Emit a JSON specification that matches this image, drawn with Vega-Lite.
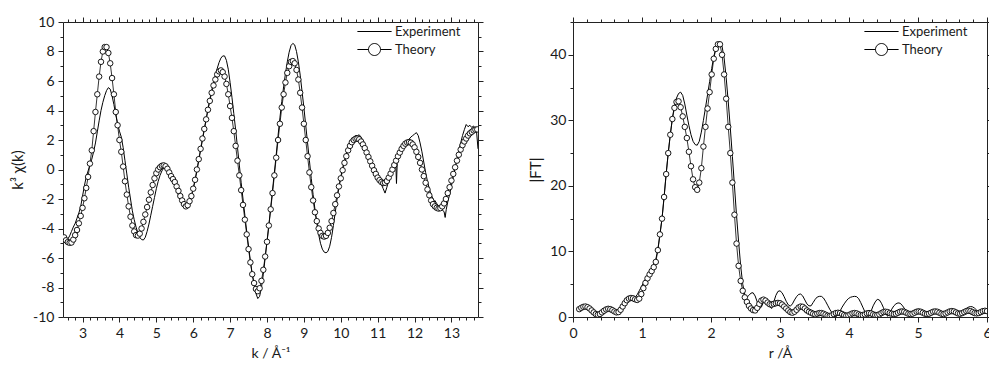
{
  "$schema": "https://vega.github.io/schema/vega-lite/v6.json",
  "background": "white",
  "padding": {"left": 10, "top": 15, "right": 0, "bottom": 0},
  "bounds": "flush",
  "spacing": 95,
  "datasets": {
    "lth": [
      {"k":2.5,"chi":-4.6},{"k":2.55,"chi":-4.8},{"k":2.6,"chi":-4.92},{"k":2.65,"chi":-4.97},{"k":2.7,"chi":-4.95},{"k":2.75,"chi":-4.75},{"k":2.8,"chi":-4.45},{"k":2.85,"chi":-4.1},{"k":2.9,"chi":-3.65},{"k":2.95,"chi":-3.15},
      {"k":3.0,"chi":-2.6},{"k":3.05,"chi":-1.95},{"k":3.1,"chi":-1.25},{"k":3.15,"chi":-0.5},{"k":3.2,"chi":0.4},{"k":3.25,"chi":1.3},{"k":3.3,"chi":2.6},{"k":3.35,"chi":3.9},{"k":3.4,"chi":5.1},{"k":3.45,"chi":6.3},
      {"k":3.5,"chi":7.3},{"k":3.55,"chi":8.0},{"k":3.6,"chi":8.3},{"k":3.65,"chi":8.3},{"k":3.7,"chi":7.9},{"k":3.75,"chi":7.2},{"k":3.8,"chi":6.2},{"k":3.85,"chi":5.1},{"k":3.9,"chi":3.9},{"k":3.95,"chi":3.0},
      {"k":4.0,"chi":2.0},{"k":4.05,"chi":1.2},{"k":4.1,"chi":0.2},{"k":4.15,"chi":-0.8},{"k":4.2,"chi":-1.7},{"k":4.25,"chi":-2.5},{"k":4.3,"chi":-3.2},{"k":4.35,"chi":-3.8},{"k":4.4,"chi":-4.2},{"k":4.45,"chi":-4.45},
      {"k":4.5,"chi":-4.48},{"k":4.55,"chi":-4.35},{"k":4.6,"chi":-4.0},{"k":4.65,"chi":-3.55},{"k":4.7,"chi":-3.05},{"k":4.75,"chi":-2.55},{"k":4.8,"chi":-2.05},{"k":4.85,"chi":-1.55},{"k":4.9,"chi":-1.05},{"k":4.95,"chi":-0.6},
      {"k":5.0,"chi":-0.25},{"k":5.05,"chi":0.0},{"k":5.1,"chi":0.15},{"k":5.15,"chi":0.25},{"k":5.2,"chi":0.28},{"k":5.25,"chi":0.22},{"k":5.3,"chi":0.05},{"k":5.35,"chi":-0.2},{"k":5.4,"chi":-0.45},{"k":5.45,"chi":-0.65},
      {"k":5.5,"chi":-0.85},{"k":5.55,"chi":-1.15},{"k":5.6,"chi":-1.45},{"k":5.65,"chi":-1.8},{"k":5.7,"chi":-2.1},{"k":5.75,"chi":-2.35},{"k":5.8,"chi":-2.5},{"k":5.85,"chi":-2.42},{"k":5.9,"chi":-2.15},{"k":5.95,"chi":-1.8},
      {"k":6.0,"chi":-1.3},{"k":6.05,"chi":-0.7},{"k":6.1,"chi":0.0},{"k":6.15,"chi":0.7},{"k":6.2,"chi":1.4},{"k":6.25,"chi":2.1},{"k":6.3,"chi":2.75},{"k":6.35,"chi":3.4},{"k":6.4,"chi":4.05},{"k":6.45,"chi":4.65},
      {"k":6.5,"chi":5.2},{"k":6.55,"chi":5.7},{"k":6.6,"chi":6.1},{"k":6.65,"chi":6.45},{"k":6.7,"chi":6.65},{"k":6.75,"chi":6.72},{"k":6.8,"chi":6.6},{"k":6.85,"chi":6.3},{"k":6.9,"chi":5.8},{"k":6.95,"chi":5.1},
      {"k":7.0,"chi":4.3},{"k":7.05,"chi":3.5},{"k":7.1,"chi":2.6},{"k":7.15,"chi":1.6},{"k":7.2,"chi":0.6},{"k":7.25,"chi":-0.4},{"k":7.3,"chi":-1.4},{"k":7.35,"chi":-2.4},{"k":7.4,"chi":-3.4},{"k":7.45,"chi":-4.4},
      {"k":7.5,"chi":-5.4},{"k":7.55,"chi":-6.3},{"k":7.6,"chi":-7.1},{"k":7.65,"chi":-7.7},{"k":7.7,"chi":-8.1},{"k":7.75,"chi":-8.25},{"k":7.8,"chi":-8.05},{"k":7.85,"chi":-7.55},{"k":7.9,"chi":-6.8},{"k":7.95,"chi":-5.9},
      {"k":8.0,"chi":-4.9},{"k":8.05,"chi":-3.8},{"k":8.1,"chi":-2.7},{"k":8.15,"chi":-1.6},{"k":8.2,"chi":-0.4},{"k":8.25,"chi":0.8},{"k":8.3,"chi":2.0},{"k":8.35,"chi":3.1},{"k":8.4,"chi":4.2},{"k":8.45,"chi":5.1},
      {"k":8.5,"chi":5.9},{"k":8.55,"chi":6.55},{"k":8.6,"chi":7.0},{"k":8.65,"chi":7.3},{"k":8.7,"chi":7.35},{"k":8.75,"chi":7.2},{"k":8.8,"chi":6.75},{"k":8.85,"chi":6.1},{"k":8.9,"chi":5.2},{"k":8.95,"chi":4.2},
      {"k":9.0,"chi":3.1},{"k":9.05,"chi":2.0},{"k":9.1,"chi":0.9},{"k":9.15,"chi":-0.2},{"k":9.2,"chi":-1.2},{"k":9.25,"chi":-2.1},{"k":9.3,"chi":-2.9},{"k":9.35,"chi":-3.5},{"k":9.4,"chi":-4.0},{"k":9.45,"chi":-4.3},
      {"k":9.5,"chi":-4.5},{"k":9.55,"chi":-4.55},{"k":9.6,"chi":-4.5},{"k":9.65,"chi":-4.3},{"k":9.7,"chi":-3.95},{"k":9.75,"chi":-3.5},{"k":9.8,"chi":-2.95},{"k":9.85,"chi":-2.35},{"k":9.9,"chi":-1.75},{"k":9.95,"chi":-1.15},
      {"k":10.0,"chi":-0.6},{"k":10.05,"chi":-0.05},{"k":10.1,"chi":0.45},{"k":10.15,"chi":0.9},{"k":10.2,"chi":1.3},{"k":10.25,"chi":1.6},{"k":10.3,"chi":1.85},{"k":10.35,"chi":2.0},{"k":10.4,"chi":2.08},{"k":10.45,"chi":2.1},
      {"k":10.5,"chi":2.05},{"k":10.55,"chi":1.9},{"k":10.6,"chi":1.7},{"k":10.65,"chi":1.45},{"k":10.7,"chi":1.15},{"k":10.75,"chi":0.85},{"k":10.8,"chi":0.55},{"k":10.85,"chi":0.25},{"k":10.9,"chi":-0.05},{"k":10.95,"chi":-0.3},
      {"k":11.0,"chi":-0.55},{"k":11.05,"chi":-0.72},{"k":11.1,"chi":-0.85},{"k":11.15,"chi":-0.92},{"k":11.2,"chi":-0.9},{"k":11.25,"chi":-0.78},{"k":11.3,"chi":-0.55},{"k":11.35,"chi":-0.28},{"k":11.4,"chi":0.0},{"k":11.45,"chi":0.3},
      {"k":11.5,"chi":0.6},{"k":11.55,"chi":0.9},{"k":11.6,"chi":1.15},{"k":11.65,"chi":1.4},{"k":11.7,"chi":1.6},{"k":11.75,"chi":1.75},{"k":11.8,"chi":1.83},{"k":11.85,"chi":1.86},{"k":11.9,"chi":1.82},{"k":11.95,"chi":1.7},
      {"k":12.0,"chi":1.5},{"k":12.05,"chi":1.2},{"k":12.1,"chi":0.85},{"k":12.15,"chi":0.45},{"k":12.2,"chi":0.0},{"k":12.25,"chi":-0.45},{"k":12.3,"chi":-0.9},{"k":12.35,"chi":-1.35},{"k":12.4,"chi":-1.75},{"k":12.45,"chi":-2.1},
      {"k":12.5,"chi":-2.35},{"k":12.55,"chi":-2.5},{"k":12.6,"chi":-2.6},{"k":12.65,"chi":-2.65},{"k":12.7,"chi":-2.62},{"k":12.75,"chi":-2.5},{"k":12.8,"chi":-2.3},{"k":12.85,"chi":-2.0},{"k":12.9,"chi":-1.6},{"k":12.95,"chi":-1.2},
      {"k":13.0,"chi":-0.75},{"k":13.05,"chi":-0.3},{"k":13.1,"chi":0.15},{"k":13.15,"chi":0.6},{"k":13.2,"chi":1.0},{"k":13.25,"chi":1.35},{"k":13.3,"chi":1.65},{"k":13.35,"chi":1.9},{"k":13.4,"chi":2.1},{"k":13.45,"chi":2.3},
      {"k":13.5,"chi":2.45},{"k":13.55,"chi":2.55},{"k":13.6,"chi":2.65},{"k":13.65,"chi":2.7},{"k":13.7,"chi":2.72}
    ],
    "lexp": [
      {"k":2.5,"chi":-4.65},{"k":2.55,"chi":-4.78},{"k":2.6,"chi":-4.72},{"k":2.65,"chi":-4.5},{"k":2.7,"chi":-4.2},{"k":2.75,"chi":-3.9},{"k":2.8,"chi":-3.65},{"k":2.85,"chi":-3.3},{"k":2.9,"chi":-2.95},{"k":2.95,"chi":-2.5},
      {"k":3.0,"chi":-1.8},{"k":3.05,"chi":-1.1},{"k":3.1,"chi":-0.5},{"k":3.15,"chi":-0.1},{"k":3.2,"chi":0.3},{"k":3.25,"chi":0.7},{"k":3.3,"chi":1.2},{"k":3.35,"chi":1.8},{"k":3.4,"chi":2.55},{"k":3.45,"chi":3.3},
      {"k":3.5,"chi":4.0},{"k":3.55,"chi":4.55},{"k":3.6,"chi":5.0},{"k":3.65,"chi":5.35},{"k":3.7,"chi":5.55},{"k":3.75,"chi":5.45},{"k":3.8,"chi":5.0},{"k":3.85,"chi":4.4},{"k":3.9,"chi":3.7},{"k":3.95,"chi":3.1},
      {"k":4.0,"chi":2.6},{"k":4.05,"chi":2.2},{"k":4.1,"chi":1.5},{"k":4.15,"chi":0.6},{"k":4.2,"chi":-0.3},{"k":4.25,"chi":-1.2},{"k":4.3,"chi":-2.0},{"k":4.35,"chi":-2.8},{"k":4.4,"chi":-3.4},{"k":4.45,"chi":-3.9},
      {"k":4.5,"chi":-4.3},{"k":4.55,"chi":-4.6},{"k":4.6,"chi":-4.75},{"k":4.65,"chi":-4.78},{"k":4.7,"chi":-4.6},{"k":4.75,"chi":-4.2},{"k":4.8,"chi":-3.7},{"k":4.85,"chi":-3.1},{"k":4.9,"chi":-2.5},{"k":4.95,"chi":-1.9},
      {"k":5.0,"chi":-1.3},{"k":5.05,"chi":-0.8},{"k":5.1,"chi":-0.4},{"k":5.15,"chi":-0.1},{"k":5.2,"chi":0.1},{"k":5.25,"chi":0.2},{"k":5.3,"chi":0.15},{"k":5.35,"chi":-0.05},{"k":5.4,"chi":-0.35},{"k":5.45,"chi":-0.7},
      {"k":5.5,"chi":-1.05},{"k":5.55,"chi":-1.4},{"k":5.6,"chi":-1.75},{"k":5.65,"chi":-2.05},{"k":5.7,"chi":-2.3},{"k":5.75,"chi":-2.45},{"k":5.8,"chi":-2.5},{"k":5.85,"chi":-2.45},{"k":5.9,"chi":-2.2},{"k":5.95,"chi":-1.8},
      {"k":6.0,"chi":-1.3},{"k":6.05,"chi":-0.75},{"k":6.1,"chi":-0.1},{"k":6.15,"chi":0.6},{"k":6.2,"chi":1.3},{"k":6.25,"chi":2.0},{"k":6.3,"chi":2.7},{"k":6.35,"chi":3.4},{"k":6.4,"chi":4.1},{"k":6.45,"chi":4.75},
      {"k":6.5,"chi":5.35},{"k":6.55,"chi":5.9},{"k":6.6,"chi":6.4},{"k":6.65,"chi":6.85},{"k":6.7,"chi":7.25},{"k":6.75,"chi":7.55},{"k":6.8,"chi":7.7},{"k":6.85,"chi":7.7},{"k":6.9,"chi":7.4},{"k":6.95,"chi":6.8},
      {"k":7.0,"chi":5.9},{"k":7.05,"chi":4.9},{"k":7.1,"chi":3.8},{"k":7.15,"chi":2.7},{"k":7.2,"chi":1.5},{"k":7.25,"chi":0.3},{"k":7.3,"chi":-0.9},{"k":7.35,"chi":-2.0},{"k":7.4,"chi":-3.1},{"k":7.45,"chi":-4.2},
      {"k":7.5,"chi":-5.2},{"k":7.55,"chi":-6.2},{"k":7.6,"chi":-7.1},{"k":7.65,"chi":-7.8},{"k":7.7,"chi":-8.4},{"k":7.75,"chi":-8.75},{"k":7.8,"chi":-8.6},{"k":7.85,"chi":-8.0},{"k":7.9,"chi":-7.1},{"k":7.95,"chi":-6.0},
      {"k":8.0,"chi":-4.9},{"k":8.05,"chi":-3.8},{"k":8.1,"chi":-2.6},{"k":8.15,"chi":-1.4},{"k":8.2,"chi":-0.2},{"k":8.25,"chi":1.0},{"k":8.3,"chi":2.3},{"k":8.35,"chi":3.5},{"k":8.4,"chi":4.6},{"k":8.45,"chi":5.6},
      {"k":8.5,"chi":6.5},{"k":8.55,"chi":7.3},{"k":8.6,"chi":7.95},{"k":8.65,"chi":8.4},{"k":8.7,"chi":8.55},{"k":8.75,"chi":8.45},{"k":8.8,"chi":8.0},{"k":8.85,"chi":7.3},{"k":8.9,"chi":6.4},{"k":8.95,"chi":5.3},
      {"k":9.0,"chi":4.2},{"k":9.05,"chi":3.0},{"k":9.1,"chi":1.8},{"k":9.15,"chi":0.6},{"k":9.2,"chi":-0.6},{"k":9.25,"chi":-1.7},{"k":9.3,"chi":-2.7},{"k":9.35,"chi":-3.6},{"k":9.4,"chi":-4.4},{"k":9.45,"chi":-5.0},
      {"k":9.5,"chi":-5.4},{"k":9.55,"chi":-5.6},{"k":9.6,"chi":-5.65},{"k":9.65,"chi":-5.55},{"k":9.7,"chi":-5.2},{"k":9.75,"chi":-4.6},{"k":9.8,"chi":-3.8},{"k":9.85,"chi":-2.9},{"k":9.9,"chi":-2.0},{"k":9.95,"chi":-1.2},
      {"k":10.0,"chi":-0.5},{"k":10.05,"chi":0.1},{"k":10.1,"chi":0.6},{"k":10.15,"chi":1.05},{"k":10.2,"chi":1.45},{"k":10.25,"chi":1.75},{"k":10.3,"chi":2.0},{"k":10.35,"chi":2.2},{"k":10.4,"chi":2.3},{"k":10.45,"chi":2.3},
      {"k":10.5,"chi":2.35},{"k":10.55,"chi":2.2},{"k":10.6,"chi":1.9},{"k":10.65,"chi":1.55},{"k":10.7,"chi":1.2},{"k":10.75,"chi":0.85},{"k":10.8,"chi":0.5},{"k":10.85,"chi":0.2},{"k":10.9,"chi":-0.1},{"k":10.95,"chi":-0.35},
      {"k":11.0,"chi":-0.6},{"k":11.05,"chi":-0.8},{"k":11.1,"chi":-1.0},{"k":11.15,"chi":-1.3},{"k":11.2,"chi":-1.6},{"k":11.25,"chi":-1.2},{"k":11.3,"chi":-0.75},{"k":11.35,"chi":-0.4},{"k":11.4,"chi":-0.1},{"k":11.45,"chi":0.25},
      {"k":11.49,"chi":0.5},{"k":11.51,"chi":-0.95},{"k":11.53,"chi":0.4},{"k":11.55,"chi":0.7},{"k":11.6,"chi":1.0},{"k":11.65,"chi":1.25},{"k":11.7,"chi":1.5},{"k":11.75,"chi":1.75},{"k":11.8,"chi":1.9},{"k":11.85,"chi":2.05},
      {"k":11.9,"chi":2.2},{"k":11.95,"chi":2.3},{"k":12.0,"chi":2.4},{"k":12.05,"chi":2.5},{"k":12.1,"chi":2.3},{"k":12.15,"chi":1.8},{"k":12.2,"chi":1.2},{"k":12.25,"chi":0.5},{"k":12.3,"chi":-0.2},{"k":12.35,"chi":-0.8},
      {"k":12.4,"chi":-1.3},{"k":12.45,"chi":-1.7},{"k":12.5,"chi":-2.0},{"k":12.52,"chi":-2.4},{"k":12.55,"chi":-2.1},{"k":12.6,"chi":-2.3},{"k":12.65,"chi":-2.5},{"k":12.7,"chi":-2.65},{"k":12.75,"chi":-2.75},{"k":12.8,"chi":-2.85},
      {"k":12.83,"chi":-3.25},{"k":12.86,"chi":-2.7},{"k":12.9,"chi":-2.2},{"k":12.95,"chi":-1.7},{"k":13.0,"chi":-1.1},{"k":13.05,"chi":-0.5},{"k":13.1,"chi":0.1},{"k":13.15,"chi":0.7},{"k":13.2,"chi":1.3},{"k":13.25,"chi":1.8},
      {"k":13.3,"chi":2.3},{"k":13.35,"chi":2.7},{"k":13.4,"chi":3.05},{"k":13.45,"chi":2.9},{"k":13.5,"chi":3.0},{"k":13.55,"chi":2.85},{"k":13.6,"chi":2.95},{"k":13.65,"chi":2.75},{"k":13.68,"chi":2.6},{"k":13.72,"chi":1.4}
    ],
    "rth": [
      {"r":0.09,"ft":1.2},{"r":0.12,"ft":1.4},{"r":0.15,"ft":1.55},{"r":0.18,"ft":1.6},{"r":0.21,"ft":1.5},{"r":0.24,"ft":1.3},{"r":0.27,"ft":1.0},{"r":0.3,"ft":0.7},{"r":0.33,"ft":0.45},{"r":0.36,"ft":0.35},
      {"r":0.39,"ft":0.45},{"r":0.42,"ft":0.7},{"r":0.45,"ft":0.95},{"r":0.48,"ft":1.15},{"r":0.51,"ft":1.25},{"r":0.54,"ft":1.2},{"r":0.57,"ft":1.05},{"r":0.6,"ft":0.85},{"r":0.63,"ft":0.7},{"r":0.66,"ft":0.75},
      {"r":0.69,"ft":1.1},{"r":0.72,"ft":1.6},{"r":0.75,"ft":2.1},{"r":0.78,"ft":2.55},{"r":0.81,"ft":2.8},{"r":0.84,"ft":2.9},{"r":0.87,"ft":2.85},{"r":0.9,"ft":2.7},{"r":0.93,"ft":2.6},{"r":0.96,"ft":2.8},
      {"r":0.99,"ft":3.5},{"r":1.02,"ft":4.4},{"r":1.05,"ft":5.2},{"r":1.08,"ft":5.9},{"r":1.11,"ft":6.5},{"r":1.14,"ft":7.0},{"r":1.17,"ft":7.6},{"r":1.2,"ft":8.4},{"r":1.23,"ft":10.2},{"r":1.26,"ft":12.6},
      {"r":1.29,"ft":15.0},{"r":1.32,"ft":18.3},{"r":1.35,"ft":21.8},{"r":1.38,"ft":25.0},{"r":1.41,"ft":27.8},{"r":1.44,"ft":30.2},{"r":1.47,"ft":31.9},{"r":1.5,"ft":32.8},{"r":1.53,"ft":32.9},{"r":1.56,"ft":32.0},
      {"r":1.59,"ft":30.6},{"r":1.62,"ft":29.0},{"r":1.65,"ft":27.3},{"r":1.68,"ft":25.2},{"r":1.71,"ft":23.0},{"r":1.74,"ft":21.0},{"r":1.77,"ft":19.8},{"r":1.8,"ft":19.4},{"r":1.83,"ft":20.5},{"r":1.86,"ft":22.7},
      {"r":1.89,"ft":26.0},{"r":1.92,"ft":29.0},{"r":1.95,"ft":31.8},{"r":1.98,"ft":34.3},{"r":2.01,"ft":37.0},{"r":2.04,"ft":39.4},{"r":2.07,"ft":40.9},{"r":2.1,"ft":41.6},{"r":2.13,"ft":41.6},{"r":2.16,"ft":40.0},
      {"r":2.19,"ft":37.0},{"r":2.22,"ft":33.3},{"r":2.25,"ft":29.0},{"r":2.28,"ft":25.0},{"r":2.31,"ft":20.5},{"r":2.34,"ft":15.6},{"r":2.37,"ft":11.2},{"r":2.4,"ft":7.8},{"r":2.43,"ft":5.5},{"r":2.46,"ft":4.0},
      {"r":2.49,"ft":3.0},{"r":2.52,"ft":2.3},{"r":2.55,"ft":1.7},{"r":2.58,"ft":1.3},{"r":2.61,"ft":1.05},{"r":2.64,"ft":1.0},{"r":2.67,"ft":1.4},{"r":2.7,"ft":2.0},{"r":2.73,"ft":2.5},{"r":2.76,"ft":2.65},
      {"r":2.79,"ft":2.5},{"r":2.82,"ft":2.2},{"r":2.85,"ft":1.95},{"r":2.88,"ft":1.9},{"r":2.91,"ft":2.0},{"r":2.94,"ft":2.1},{"r":2.97,"ft":2.15},{"r":3.0,"ft":2.1},{"r":3.03,"ft":1.9},{"r":3.06,"ft":1.6},
      {"r":3.09,"ft":1.3},{"r":3.12,"ft":1.0},{"r":3.15,"ft":0.75},{"r":3.18,"ft":0.65},{"r":3.21,"ft":0.8},{"r":3.24,"ft":1.1},{"r":3.27,"ft":1.45},{"r":3.3,"ft":1.6},{"r":3.33,"ft":1.55},{"r":3.36,"ft":1.3},
      {"r":3.39,"ft":1.0},{"r":3.42,"ft":0.8},{"r":3.45,"ft":0.65},{"r":3.48,"ft":0.5},{"r":3.51,"ft":0.4},{"r":3.54,"ft":0.5},{"r":3.57,"ft":0.6},{"r":3.6,"ft":0.6},{"r":3.63,"ft":0.5},{"r":3.66,"ft":0.35},
      {"r":3.69,"ft":0.2},{"r":3.72,"ft":0.15},{"r":3.75,"ft":0.25},{"r":3.78,"ft":0.45},{"r":3.81,"ft":0.6},{"r":3.84,"ft":0.65},{"r":3.87,"ft":0.6},{"r":3.9,"ft":0.45},{"r":3.93,"ft":0.3},{"r":3.96,"ft":0.2},
      {"r":3.99,"ft":0.25},{"r":4.02,"ft":0.4},{"r":4.05,"ft":0.55},{"r":4.08,"ft":0.6},{"r":4.11,"ft":0.55},{"r":4.14,"ft":0.4},{"r":4.17,"ft":0.3},{"r":4.2,"ft":0.3},{"r":4.23,"ft":0.4},{"r":4.26,"ft":0.55},
      {"r":4.29,"ft":0.6},{"r":4.32,"ft":0.55},{"r":4.35,"ft":0.4},{"r":4.38,"ft":0.3},{"r":4.41,"ft":0.3},{"r":4.44,"ft":0.4},{"r":4.47,"ft":0.6},{"r":4.5,"ft":0.75},{"r":4.53,"ft":0.8},{"r":4.56,"ft":0.75},
      {"r":4.59,"ft":0.6},{"r":4.62,"ft":0.5},{"r":4.65,"ft":0.45},{"r":4.68,"ft":0.5},{"r":4.71,"ft":0.65},{"r":4.74,"ft":0.8},{"r":4.77,"ft":0.85},{"r":4.8,"ft":0.8},{"r":4.83,"ft":0.65},{"r":4.86,"ft":0.5},
      {"r":4.89,"ft":0.45},{"r":4.92,"ft":0.5},{"r":4.95,"ft":0.65},{"r":4.98,"ft":0.8},{"r":5.01,"ft":0.85},{"r":5.04,"ft":0.8},{"r":5.07,"ft":0.65},{"r":5.1,"ft":0.5},{"r":5.13,"ft":0.45},{"r":5.16,"ft":0.5},
      {"r":5.19,"ft":0.65},{"r":5.22,"ft":0.8},{"r":5.25,"ft":0.85},{"r":5.28,"ft":0.8},{"r":5.31,"ft":0.65},{"r":5.34,"ft":0.5},{"r":5.37,"ft":0.45},{"r":5.4,"ft":0.55},{"r":5.43,"ft":0.7},{"r":5.46,"ft":0.85},
      {"r":5.49,"ft":0.9},{"r":5.52,"ft":0.85},{"r":5.55,"ft":0.7},{"r":5.58,"ft":0.55},{"r":5.61,"ft":0.5},{"r":5.64,"ft":0.6},{"r":5.67,"ft":0.75},{"r":5.7,"ft":0.9},{"r":5.73,"ft":0.95},{"r":5.76,"ft":0.9},
      {"r":5.79,"ft":0.75},{"r":5.82,"ft":0.6},{"r":5.85,"ft":0.55},{"r":5.88,"ft":0.6},{"r":5.91,"ft":0.75},{"r":5.94,"ft":0.9},{"r":5.97,"ft":0.95},{"r":6.0,"ft":0.9}
    ],
    "rexp": [
      {"r":0.09,"ft":1.2},{"r":0.12,"ft":1.4},{"r":0.15,"ft":1.55},{"r":0.18,"ft":1.6},{"r":0.21,"ft":1.5},{"r":0.24,"ft":1.3},{"r":0.27,"ft":1.0},{"r":0.3,"ft":0.7},{"r":0.33,"ft":0.45},{"r":0.36,"ft":0.35},
      {"r":0.39,"ft":0.45},{"r":0.42,"ft":0.7},{"r":0.45,"ft":0.95},{"r":0.48,"ft":1.15},{"r":0.51,"ft":1.25},{"r":0.54,"ft":1.2},{"r":0.57,"ft":1.05},{"r":0.6,"ft":0.85},{"r":0.63,"ft":0.7},{"r":0.66,"ft":0.75},
      {"r":0.69,"ft":1.1},{"r":0.72,"ft":1.6},{"r":0.75,"ft":2.1},{"r":0.78,"ft":2.55},{"r":0.81,"ft":2.8},{"r":0.84,"ft":2.9},{"r":0.87,"ft":2.9},{"r":0.9,"ft":3.0},{"r":0.93,"ft":3.4},{"r":0.96,"ft":4.0},
      {"r":0.99,"ft":4.6},{"r":1.02,"ft":5.2},{"r":1.05,"ft":5.8},{"r":1.08,"ft":6.4},{"r":1.11,"ft":6.9},{"r":1.14,"ft":7.4},{"r":1.17,"ft":8.0},{"r":1.2,"ft":8.8},{"r":1.23,"ft":10.3},{"r":1.26,"ft":12.6},
      {"r":1.29,"ft":15.0},{"r":1.32,"ft":18.3},{"r":1.35,"ft":21.8},{"r":1.38,"ft":25.0},{"r":1.41,"ft":27.8},{"r":1.44,"ft":30.3},{"r":1.47,"ft":32.2},{"r":1.5,"ft":33.4},{"r":1.53,"ft":34.1},{"r":1.56,"ft":34.3},
      {"r":1.59,"ft":33.8},{"r":1.62,"ft":32.5},{"r":1.65,"ft":30.8},{"r":1.68,"ft":29.2},{"r":1.71,"ft":27.8},{"r":1.74,"ft":26.8},{"r":1.77,"ft":26.3},{"r":1.8,"ft":26.2},{"r":1.83,"ft":26.8},{"r":1.86,"ft":28.2},
      {"r":1.89,"ft":30.0},{"r":1.92,"ft":31.9},{"r":1.95,"ft":33.9},{"r":1.98,"ft":35.9},{"r":2.01,"ft":37.9},{"r":2.04,"ft":39.7},{"r":2.07,"ft":41.0},{"r":2.1,"ft":41.8},{"r":2.13,"ft":42.0},{"r":2.16,"ft":41.3},
      {"r":2.19,"ft":39.5},{"r":2.22,"ft":36.5},{"r":2.25,"ft":32.8},{"r":2.28,"ft":28.8},{"r":2.31,"ft":24.5},{"r":2.34,"ft":20.0},{"r":2.37,"ft":15.5},{"r":2.4,"ft":11.5},{"r":2.43,"ft":7.8},{"r":2.46,"ft":5.0},
      {"r":2.49,"ft":3.4},{"r":2.52,"ft":3.0},{"r":2.55,"ft":3.3},{"r":2.58,"ft":3.65},{"r":2.61,"ft":3.7},{"r":2.64,"ft":3.2},{"r":2.67,"ft":2.3},{"r":2.7,"ft":1.3},{"r":2.73,"ft":1.5},{"r":2.76,"ft":2.3},
      {"r":2.79,"ft":2.5},{"r":2.82,"ft":2.2},{"r":2.85,"ft":1.6},{"r":2.88,"ft":1.3},{"r":2.91,"ft":2.3},{"r":2.94,"ft":3.3},{"r":2.97,"ft":3.9},{"r":3.0,"ft":4.0},{"r":3.03,"ft":3.7},{"r":3.06,"ft":3.1},
      {"r":3.09,"ft":2.4},{"r":3.12,"ft":1.85},{"r":3.15,"ft":1.65},{"r":3.18,"ft":2.0},{"r":3.21,"ft":2.6},{"r":3.24,"ft":3.1},{"r":3.27,"ft":3.45},{"r":3.3,"ft":3.5},{"r":3.33,"ft":3.2},{"r":3.36,"ft":2.6},
      {"r":3.39,"ft":2.0},{"r":3.42,"ft":1.7},{"r":3.45,"ft":1.7},{"r":3.48,"ft":2.2},{"r":3.51,"ft":2.7},{"r":3.54,"ft":3.05},{"r":3.57,"ft":3.15},{"r":3.6,"ft":3.15},{"r":3.63,"ft":2.9},{"r":3.66,"ft":2.4},
      {"r":3.69,"ft":1.8},{"r":3.72,"ft":1.2},{"r":3.75,"ft":0.7},{"r":3.78,"ft":0.3},{"r":3.81,"ft":0.05},{"r":3.84,"ft":0.3},{"r":3.87,"ft":0.9},{"r":3.9,"ft":1.5},{"r":3.93,"ft":2.0},{"r":3.96,"ft":2.45},
      {"r":3.99,"ft":2.8},{"r":4.02,"ft":3.0},{"r":4.05,"ft":3.1},{"r":4.08,"ft":3.15},{"r":4.11,"ft":3.1},{"r":4.14,"ft":2.8},{"r":4.17,"ft":2.2},{"r":4.2,"ft":1.5},{"r":4.23,"ft":0.8},{"r":4.26,"ft":0.2},
      {"r":4.29,"ft":0.1},{"r":4.32,"ft":0.9},{"r":4.35,"ft":1.7},{"r":4.38,"ft":2.3},{"r":4.41,"ft":2.7},{"r":4.44,"ft":2.6},{"r":4.47,"ft":2.1},{"r":4.5,"ft":1.4},{"r":4.53,"ft":0.6},{"r":4.56,"ft":0.1},
      {"r":4.59,"ft":0.6},{"r":4.62,"ft":1.2},{"r":4.65,"ft":1.7},{"r":4.68,"ft":2.0},{"r":4.71,"ft":2.15},{"r":4.74,"ft":2.1},{"r":4.77,"ft":1.8},{"r":4.8,"ft":1.35},{"r":4.83,"ft":0.9},{"r":4.86,"ft":0.5},
      {"r":4.89,"ft":0.35},{"r":4.92,"ft":0.6},{"r":4.95,"ft":0.9},{"r":4.98,"ft":1.15},{"r":5.01,"ft":1.2},{"r":5.04,"ft":1.1},{"r":5.07,"ft":0.85},{"r":5.1,"ft":0.6},{"r":5.13,"ft":0.45},{"r":5.16,"ft":0.5},
      {"r":5.19,"ft":0.7},{"r":5.22,"ft":0.85},{"r":5.25,"ft":0.9},{"r":5.28,"ft":0.8},{"r":5.31,"ft":0.6},{"r":5.34,"ft":0.45},{"r":5.37,"ft":0.5},{"r":5.4,"ft":0.7},{"r":5.43,"ft":0.9},{"r":5.46,"ft":1.0},
      {"r":5.49,"ft":0.95},{"r":5.52,"ft":0.8},{"r":5.55,"ft":0.6},{"r":5.58,"ft":0.5},{"r":5.61,"ft":0.6},{"r":5.64,"ft":0.8},{"r":5.67,"ft":1.05},{"r":5.7,"ft":1.3},{"r":5.73,"ft":1.5},{"r":5.76,"ft":1.6},
      {"r":5.79,"ft":1.55},{"r":5.82,"ft":1.35},{"r":5.85,"ft":1.05},{"r":5.88,"ft":0.8},{"r":5.91,"ft":0.65},{"r":5.94,"ft":0.6},{"r":5.97,"ft":0.6},{"r":6.0,"ft":0.65}
    ]
  },
  "hconcat": [
    {
      "width": 415,
      "height": 295,
      "layer": [
        {
          "data": {"name": "lexp"},
          "mark": {"type": "line", "color": "black", "strokeWidth": 1, "clip": true},
          "encoding": {
            "x": {"field": "k", "type": "quantitative", "scale": {"domain": [2.47, 13.72], "nice": false, "zero": false},
              "axis": {"orient": "bottom", "title": "k / Å⁻¹", "titlePadding": 6,
                "values": [2.6,2.8,3,3.2,3.4,3.6,3.8,4,4.2,4.4,4.6,4.8,5,5.2,5.4,5.6,5.8,6,6.2,6.4,6.6,6.8,7,7.2,7.4,7.6,7.8,8,8.2,8.4,8.6,8.8,9,9.2,9.4,9.6,9.8,10,10.2,10.4,10.6,10.8,11,11.2,11.4,11.6,11.8,12,12.2,12.4,12.6,12.8,13,13.2,13.4,13.6],
                "labelExpr": "datum.value % 1 === 0 ? '' + datum.value : ''",
                "tickSize": {"condition": {"test": "datum.value % 1 === 0", "value": 5}, "value": 3}}},
            "y": {"field": "chi", "type": "quantitative", "scale": {"domain": [-10, 10], "nice": false, "zero": false},
              "axis": {"orient": "left", "title": "k³ χ(k)", "titlePadding": 7, "titleFontSize": 15,
                "values": [-10,-9,-8,-7,-6,-5,-4,-3,-2,-1,0,1,2,3,4,5,6,7,8,9,10],
                "labelExpr": "datum.value % 2 === 0 ? '' + datum.value : ''",
                "tickSize": {"condition": {"test": "datum.value % 2 === 0", "value": 5}, "value": 3}}}
          }
        },
        {
          "data": {"name": "lth"},
          "mark": {"type": "line", "color": "black", "strokeWidth": 0.8, "clip": true},
          "encoding": {
            "x": {"field": "k", "type": "quantitative",
              "axis": {"orient": "top", "title": null, "labels": false,
                "values": [2.6,2.8,3,3.2,3.4,3.6,3.8,4,4.2,4.4,4.6,4.8,5,5.2,5.4,5.6,5.8,6,6.2,6.4,6.6,6.8,7,7.2,7.4,7.6,7.8,8,8.2,8.4,8.6,8.8,9,9.2,9.4,9.6,9.8,10,10.2,10.4,10.6,10.8,11,11.2,11.4,11.6,11.8,12,12.2,12.4,12.6,12.8,13,13.2,13.4,13.6],
                "tickSize": {"condition": {"test": "datum.value % 1 === 0", "value": 5}, "value": 3}}},
            "y": {"field": "chi", "type": "quantitative",
              "axis": {"orient": "right", "title": null, "labels": false,
                "values": [-10,-9,-8,-7,-6,-5,-4,-3,-2,-1,0,1,2,3,4,5,6,7,8,9,10],
                "tickSize": {"condition": {"test": "datum.value % 2 === 0", "value": 5}, "value": 3}}}
          }
        },
        {
          "data": {"name": "lth"},
          "mark": {"type": "point", "shape": "circle", "filled": true, "fill": "white", "stroke": "black", "strokeWidth": 0.9, "size": 30, "opacity": 1, "clip": true},
          "encoding": {
            "x": {"field": "k", "type": "quantitative", "axis": null},
            "y": {"field": "chi", "type": "quantitative", "axis": null}
          }
        },
        {
          "data": {"values": [{"series": "Experiment"}, {"series": "Theory"}]},
          "transform": [{"filter": "datum.series === 'none'"}],
          "mark": {"type": "point", "filled": false, "color": "black"},
          "encoding": {
            "shape": {"field": "series", "type": "nominal",
              "scale": {"domain": ["Experiment", "Theory"], "range": ["M-2.85,0L2.85,0", "M-2.85,0L-1,0M1,0L2.85,0M1,0A1,1,0,1,1,-1,0A1,1,0,1,1,1,0Z"]},
              "legend": {"title": null, "orient": "none", "legendX": 305, "legendY": 3, "padding": 0, "symbolSize": 144, "symbolStrokeWidth": 1, "symbolStrokeColor": "black", "symbolFillColor": "white", "symbolOpacity": 1, "labelFont": "Lato", "labelFontSize": 13, "labelColor": "#1a1a1a", "labelOffset": 14, "rowPadding": 2,
                "encode": {"symbols": {"update": {"stroke": {"value": "black"}, "fill": {"value": "white"}, "strokeWidth": {"value": 1}, "opacity": {"value": 1}}}}}}
          }
        }
      ]
    },
    {
      "width": 414,
      "height": 295,
      "layer": [
        {
          "data": {"name": "rexp"},
          "mark": {"type": "line", "color": "black", "strokeWidth": 1, "clip": true},
          "encoding": {
            "x": {"field": "r", "type": "quantitative", "scale": {"domain": [0, 6], "nice": false, "zero": false},
              "axis": {"orient": "bottom", "title": "r /Å", "titlePadding": 6,
                "values": [0,0.2,0.4,0.6,0.8,1,1.2,1.4,1.6,1.8,2,2.2,2.4,2.6,2.8,3,3.2,3.4,3.6,3.8,4,4.2,4.4,4.6,4.8,5,5.2,5.4,5.6,5.8,6],
                "labelExpr": "datum.value % 1 === 0 ? '' + datum.value : ''",
                "tickSize": {"condition": {"test": "datum.value % 1 === 0", "value": 5}, "value": 3}}},
            "y": {"field": "ft", "type": "quantitative", "scale": {"domain": [0, 45], "nice": false, "zero": false},
              "axis": {"orient": "left", "title": "|FT|", "titlePadding": 6, "labelPadding": 2, "titleFontSize": 15,
                "values": [0,5,10,15,20,25,30,35,40,45],
                "labelExpr": "datum.value % 10 === 0 ? '' + datum.value : ''",
                "tickSize": {"condition": {"test": "datum.value % 10 === 0", "value": 5}, "value": 3}}}
          }
        },
        {
          "data": {"name": "rth"},
          "mark": {"type": "line", "color": "black", "strokeWidth": 0.8, "clip": true},
          "encoding": {
            "x": {"field": "r", "type": "quantitative",
              "axis": {"orient": "top", "title": null, "labels": false,
                "values": [0,0.2,0.4,0.6,0.8,1,1.2,1.4,1.6,1.8,2,2.2,2.4,2.6,2.8,3,3.2,3.4,3.6,3.8,4,4.2,4.4,4.6,4.8,5,5.2,5.4,5.6,5.8,6],
                "tickSize": {"condition": {"test": "datum.value % 1 === 0", "value": 5}, "value": 3}}},
            "y": {"field": "ft", "type": "quantitative",
              "axis": {"orient": "right", "title": null, "labels": false,
                "values": [0,5,10,15,20,25,30,35,40,45],
                "tickSize": {"condition": {"test": "datum.value % 10 === 0", "value": 5}, "value": 3}}}
          }
        },
        {
          "data": {"name": "rth"},
          "mark": {"type": "point", "shape": "circle", "filled": true, "fill": "white", "stroke": "black", "strokeWidth": 0.9, "size": 30, "opacity": 1, "clip": true},
          "encoding": {
            "x": {"field": "r", "type": "quantitative", "axis": null},
            "y": {"field": "ft", "type": "quantitative", "axis": null}
          }
        },
        {
          "data": {"values": [{"series": "Experiment"}, {"series": "Theory"}]},
          "transform": [{"filter": "datum.series === 'none'"}],
          "mark": {"type": "point", "filled": false, "color": "black"},
          "encoding": {
            "shape": {"field": "series", "type": "nominal",
              "scale": {"domain": ["Experiment", "Theory"], "range": ["M-2.85,0L2.85,0", "M-2.85,0L-1,0M1,0L2.85,0M1,0A1,1,0,1,1,-1,0A1,1,0,1,1,1,0Z"]},
              "legend": {"title": null, "orient": "none", "legendX": 302, "legendY": 3, "padding": 0, "symbolSize": 144, "symbolStrokeWidth": 1, "symbolStrokeColor": "black", "symbolFillColor": "white", "symbolOpacity": 1, "labelFont": "Lato", "labelFontSize": 13, "labelColor": "#1a1a1a", "labelOffset": 14, "rowPadding": 2,
                "encode": {"symbols": {"update": {"stroke": {"value": "black"}, "fill": {"value": "white"}, "strokeWidth": {"value": 1}, "opacity": {"value": 1}}}}}}
          }
        }
      ]
    }
  ],
  "resolve": {"scale": {"shape": "independent"}, "legend": {"shape": "independent"}},
  "config": {
    "view": {"stroke": null},
    "axis": {"grid": false, "domainColor": "#222", "tickColor": "#222", "domainWidth": 1, "tickWidth": 1,
      "labelFont": "Lato", "labelFontSize": 14, "labelColor": "#1a1a1a", "labelPadding": 4, "labelOverlap": false, "labelFlush": false,
      "titleFont": "Lato", "titleFontSize": 14, "titleFontWeight": "normal", "titleColor": "#1a1a1a"}
  }
}
